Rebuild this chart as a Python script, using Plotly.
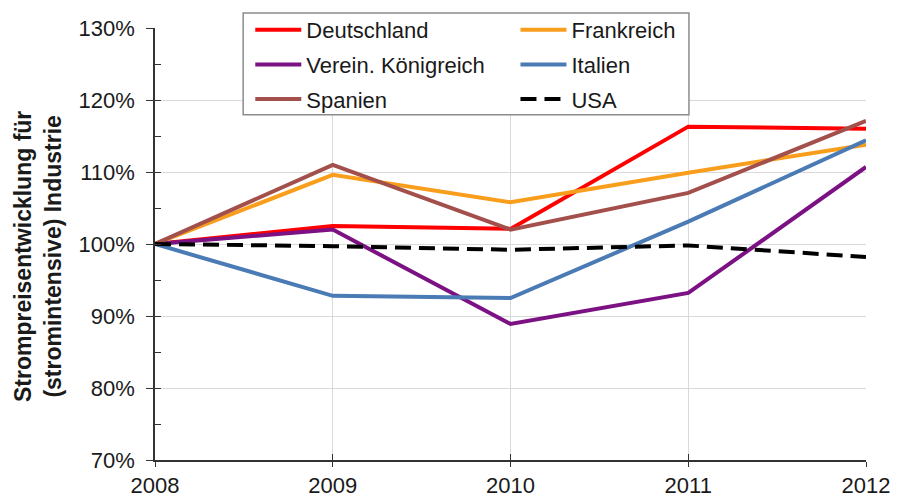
import plotly.graph_objects as go

years = [2008, 2009, 2010, 2011, 2012]
deutschland = [100, 102.5, 102.1, 116.3, 116.0]
frankreich = [100, 109.6, 105.8, 109.9, 113.8]
vereinigtes_koenigreich = [100, 102.0, 88.9, 93.2, 110.7]
italien = [100, 92.8, 92.5, 103.1, 114.4]
spanien = [100, 111.0, 102.0, 107.1, 117.1]
usa = [100, 99.7, 99.2, 99.8, 98.2]

y_ticks = [70, 80, 90, 100, 110, 120, 130]
y_ticklabels = ["70%", "80%", "90%", "100%", "110%", "120%", "130%"]
y_title = "<b>Strompreisentwicklung für<br>(stromintensive) Industrie</b>"

series = [
    ("Deutschland", deutschland, "#FF0000", "solid", "legend"),
    ("Frankreich", frankreich, "#F99E1C", "solid", "legend2"),
    ("Verein. Königreich", vereinigtes_koenigreich, "#7B1183", "solid", "legend"),
    ("Italien", italien, "#4A7BB5", "solid", "legend2"),
    ("Spanien", spanien, "#A3504C", "solid", "legend"),
    ("USA", usa, "#000000", "16px,8px", "legend2"),
]

FONT = "Liberation Sans, Arial, sans-serif"

# the page body has an 8px margin, so the figure is 890x489 placed at (8, 8)
W, H = 890, 489

fig = go.Figure()
for name, vals, color, dash, leg in series:
    fig.add_trace(go.Scatter(
        x=years, y=vals, name=name, mode="lines",
        line=dict(color=color, width=4, dash=dash),
        legend=leg, legendgroup=name,
    ))

# invisible trace for the second (crossing) tick axes
fig.add_trace(go.Scatter(x=[2008], y=[100], xaxis="x2", yaxis="y2",
                         mode="markers", marker=dict(opacity=0),
                         showlegend=False, hoverinfo="skip"))

fig.update_layout(
    width=W, height=H,
    margin=dict(l=147, r=32, t=20, b=37, autoexpand=False),
    paper_bgcolor="white", plot_bgcolor="white",
    font=dict(family=FONT, size=22, color="#1a1a1a"),
    xaxis=dict(
        range=[2008, 2012], tickvals=years, ticktext=[str(y) for y in years],
        showgrid=True, gridcolor="#D9D9D9", gridwidth=1,
        showline=True, linecolor="#333333", linewidth=1.5,
        ticks="outside", ticklen=5, tickcolor="#333333",
        zeroline=False, tickfont=dict(size=22),
    ),
    yaxis=dict(
        range=[70, 130], tickvals=y_ticks, ticktext=y_ticklabels,
        showgrid=True, gridcolor="#D9D9D9", gridwidth=1,
        showline=True, linecolor="#333333", linewidth=1.5,
        ticks="outside", ticklen=7, tickcolor="#333333",
        zeroline=False, tickfont=dict(size=22), ticklabelstandoff=7,
    ),
    xaxis2=dict(
        range=[2008, 2012], overlaying="x", anchor="y2", side="bottom",
        tickvals=years, showticklabels=False, showgrid=False,
        ticks="inside", ticklen=6, tickcolor="#333333", zeroline=False,
    ),
    yaxis2=dict(
        range=[70, 130], overlaying="y", anchor="x2", side="left",
        tickmode="linear", tick0=70, dtick=5, showticklabels=False, showgrid=False,
        ticks="inside", ticklen=6, tickcolor="#333333", zeroline=False,
    ),
    legend=dict(
        x=0.134, y=1.044, xanchor="left", yanchor="top",
        bgcolor="rgba(0,0,0,0)", borderwidth=0,
        font=dict(size=22), tracegroupgap=3, itemwidth=46,
    ),
    legend2=dict(
        x=0.507, y=1.044, xanchor="left", yanchor="top",
        bgcolor="rgba(0,0,0,0)", borderwidth=0,
        font=dict(size=22), tracegroupgap=3, itemwidth=46,
    ),
    shapes=[dict(
        type="rect", xref="paper", yref="paper",
        x0=0.124, x1=0.751, y0=0.799, y1=1.035,
        line=dict(color="#8C8C8C", width=1.5), fillcolor="white", layer="above",
    )],
    annotations=[dict(
        text=y_title, textangle=-90, xref="paper", yref="paper",
        x=-0.1646, y=0.472, xanchor="center", yanchor="middle",
        showarrow=False, font=dict(size=23, color="#1a1a1a"),
    )],
    showlegend=True,
)

fig.write_html("out.html")
